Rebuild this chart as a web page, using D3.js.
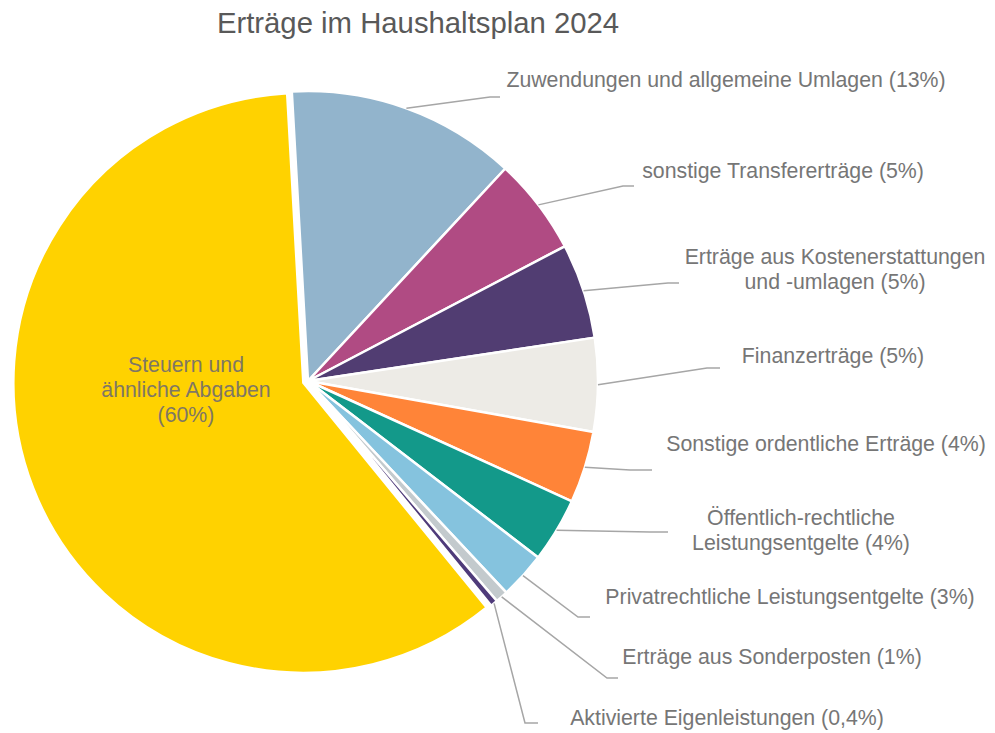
<!DOCTYPE html>
<html>
<head>
<meta charset="utf-8">
<script src="https://cdn.jsdelivr.net/npm/d3@7/dist/d3.min.js"></script>
<style>
  body { margin: 0; background: #fff; }
  svg { font-family: "Liberation Sans", Arial, sans-serif; }
</style>
</head>
<body>
<svg width="995" height="733"></svg>
<script>
// data (percent of total)
var categories = [
  ["Zuwendungen und allgemeine Umlagen (13%)"],
  ["sonstige Transfererträge (5%)"],
  ["Erträge aus Kostenerstattungen", "und -umlagen (5%)"],
  ["Finanzerträge (5%)"],
  ["Sonstige ordentliche Erträge (4%)"],
  ["Öffentlich-rechtliche", "Leistungsentgelte (4%)"],
  ["Privatrechtliche Leistungsentgelte (3%)"],
  ["Erträge aus Sonderposten (1%)"],
  ["Aktivierte Eigenleistungen (0,4%)"],
  ["Steuern und", "ähnliche Abgaben", "(60%)"]
];
var values = [12.8, 5.4, 5.3, 5.2, 4.0, 3.6, 2.6, 0.7, 0.4, 60.0];
var colors = ["#92b4cc", "#b04b83", "#513d72", "#edebe6", "#ff8438",
              "#13998a", "#85c3de", "#c3cacd", "#4f3b7a", "#ffd200"];

// label layout: text centre x, first baseline y, elbow x, elbow y, line end x
var labelLayout = [
  [726, 87, 490, 97, 500],
  [783, 178, 623, 186, 634],
  [835, 264, 668, 283, 679],
  [833, 363, 707, 368, 720],
  [826, 451, 630, 470, 652],
  [801, 525, 650, 532, 668],
  [790, 604, 578, 617, 590],
  [772, 664, 607, 678, 618],
  [727, 725, 525, 723, 538],
  [186, 372, 0, 0, 0]
];

var svg = d3.select("svg");
var cx = 308, cy = 381, r = 290;
var start = -3.2 * Math.PI / 180;
var explode = 5;

var pie = d3.pie().sort(null).value(function (d) { return d; })
    .startAngle(start).endAngle(start + 2 * Math.PI);
var arc = d3.arc().innerRadius(0).outerRadius(r);
var arcs = pie(values);

// title
svg.append("text")
    .attr("x", 418).attr("y", 33)
    .attr("text-anchor", "middle")
    .attr("font-size", "29.3px")
    .attr("fill", "#595959")
    .text("Erträge im Haushaltsplan 2024");

var g = svg.append("g").attr("transform", "translate(" + cx + "," + cy + ")");

function mid(d) { return (d.startAngle + d.endAngle) / 2; }

g.selectAll(".slice")
    .data(arcs)
    .enter().append("path")
    .attr("class", "slice")
    .attr("d", arc)
    .attr("fill", function (d, i) { return colors[i]; })
    .attr("stroke", "#fff")
    .attr("stroke-width", 2.5)
    .attr("stroke-linejoin", "round")
    .attr("transform", function (d, i) {
      if (i !== 9) return null;   // only the big slice is pulled out
      var a = mid(d);
      return "translate(" + (Math.sin(a) * explode) + "," + (-Math.cos(a) * explode) + ")";
    });

// leader lines
var lines = svg.append("g");
arcs.forEach(function (d, i) {
  if (i === 9) return;
  var a = mid(d), L = labelLayout[i];
  var sx = cx + Math.sin(a) * r, sy = cy - Math.cos(a) * r;
  lines.append("polyline")
      .attr("points", [[sx, sy], [L[2], L[3]], [L[4], L[3]]].join(" "))
      .attr("fill", "none")
      .attr("stroke", "#a6a6a6")
      .attr("stroke-width", 1.5);
});

// labels
var labels = svg.append("g");
categories.forEach(function (c, i) {
  var L = labelLayout[i];
  var t = labels.append("text")
      .attr("text-anchor", "middle")
      .attr("font-size", "21.3px")
      .attr("fill", i === 9 ? "#7f7764" : "#767676");
  c.forEach(function (s, k) {
    t.append("tspan").attr("x", L[0]).attr("y", L[1] + k * 25).text(s);
  });
});
</script>
</body>
</html>
